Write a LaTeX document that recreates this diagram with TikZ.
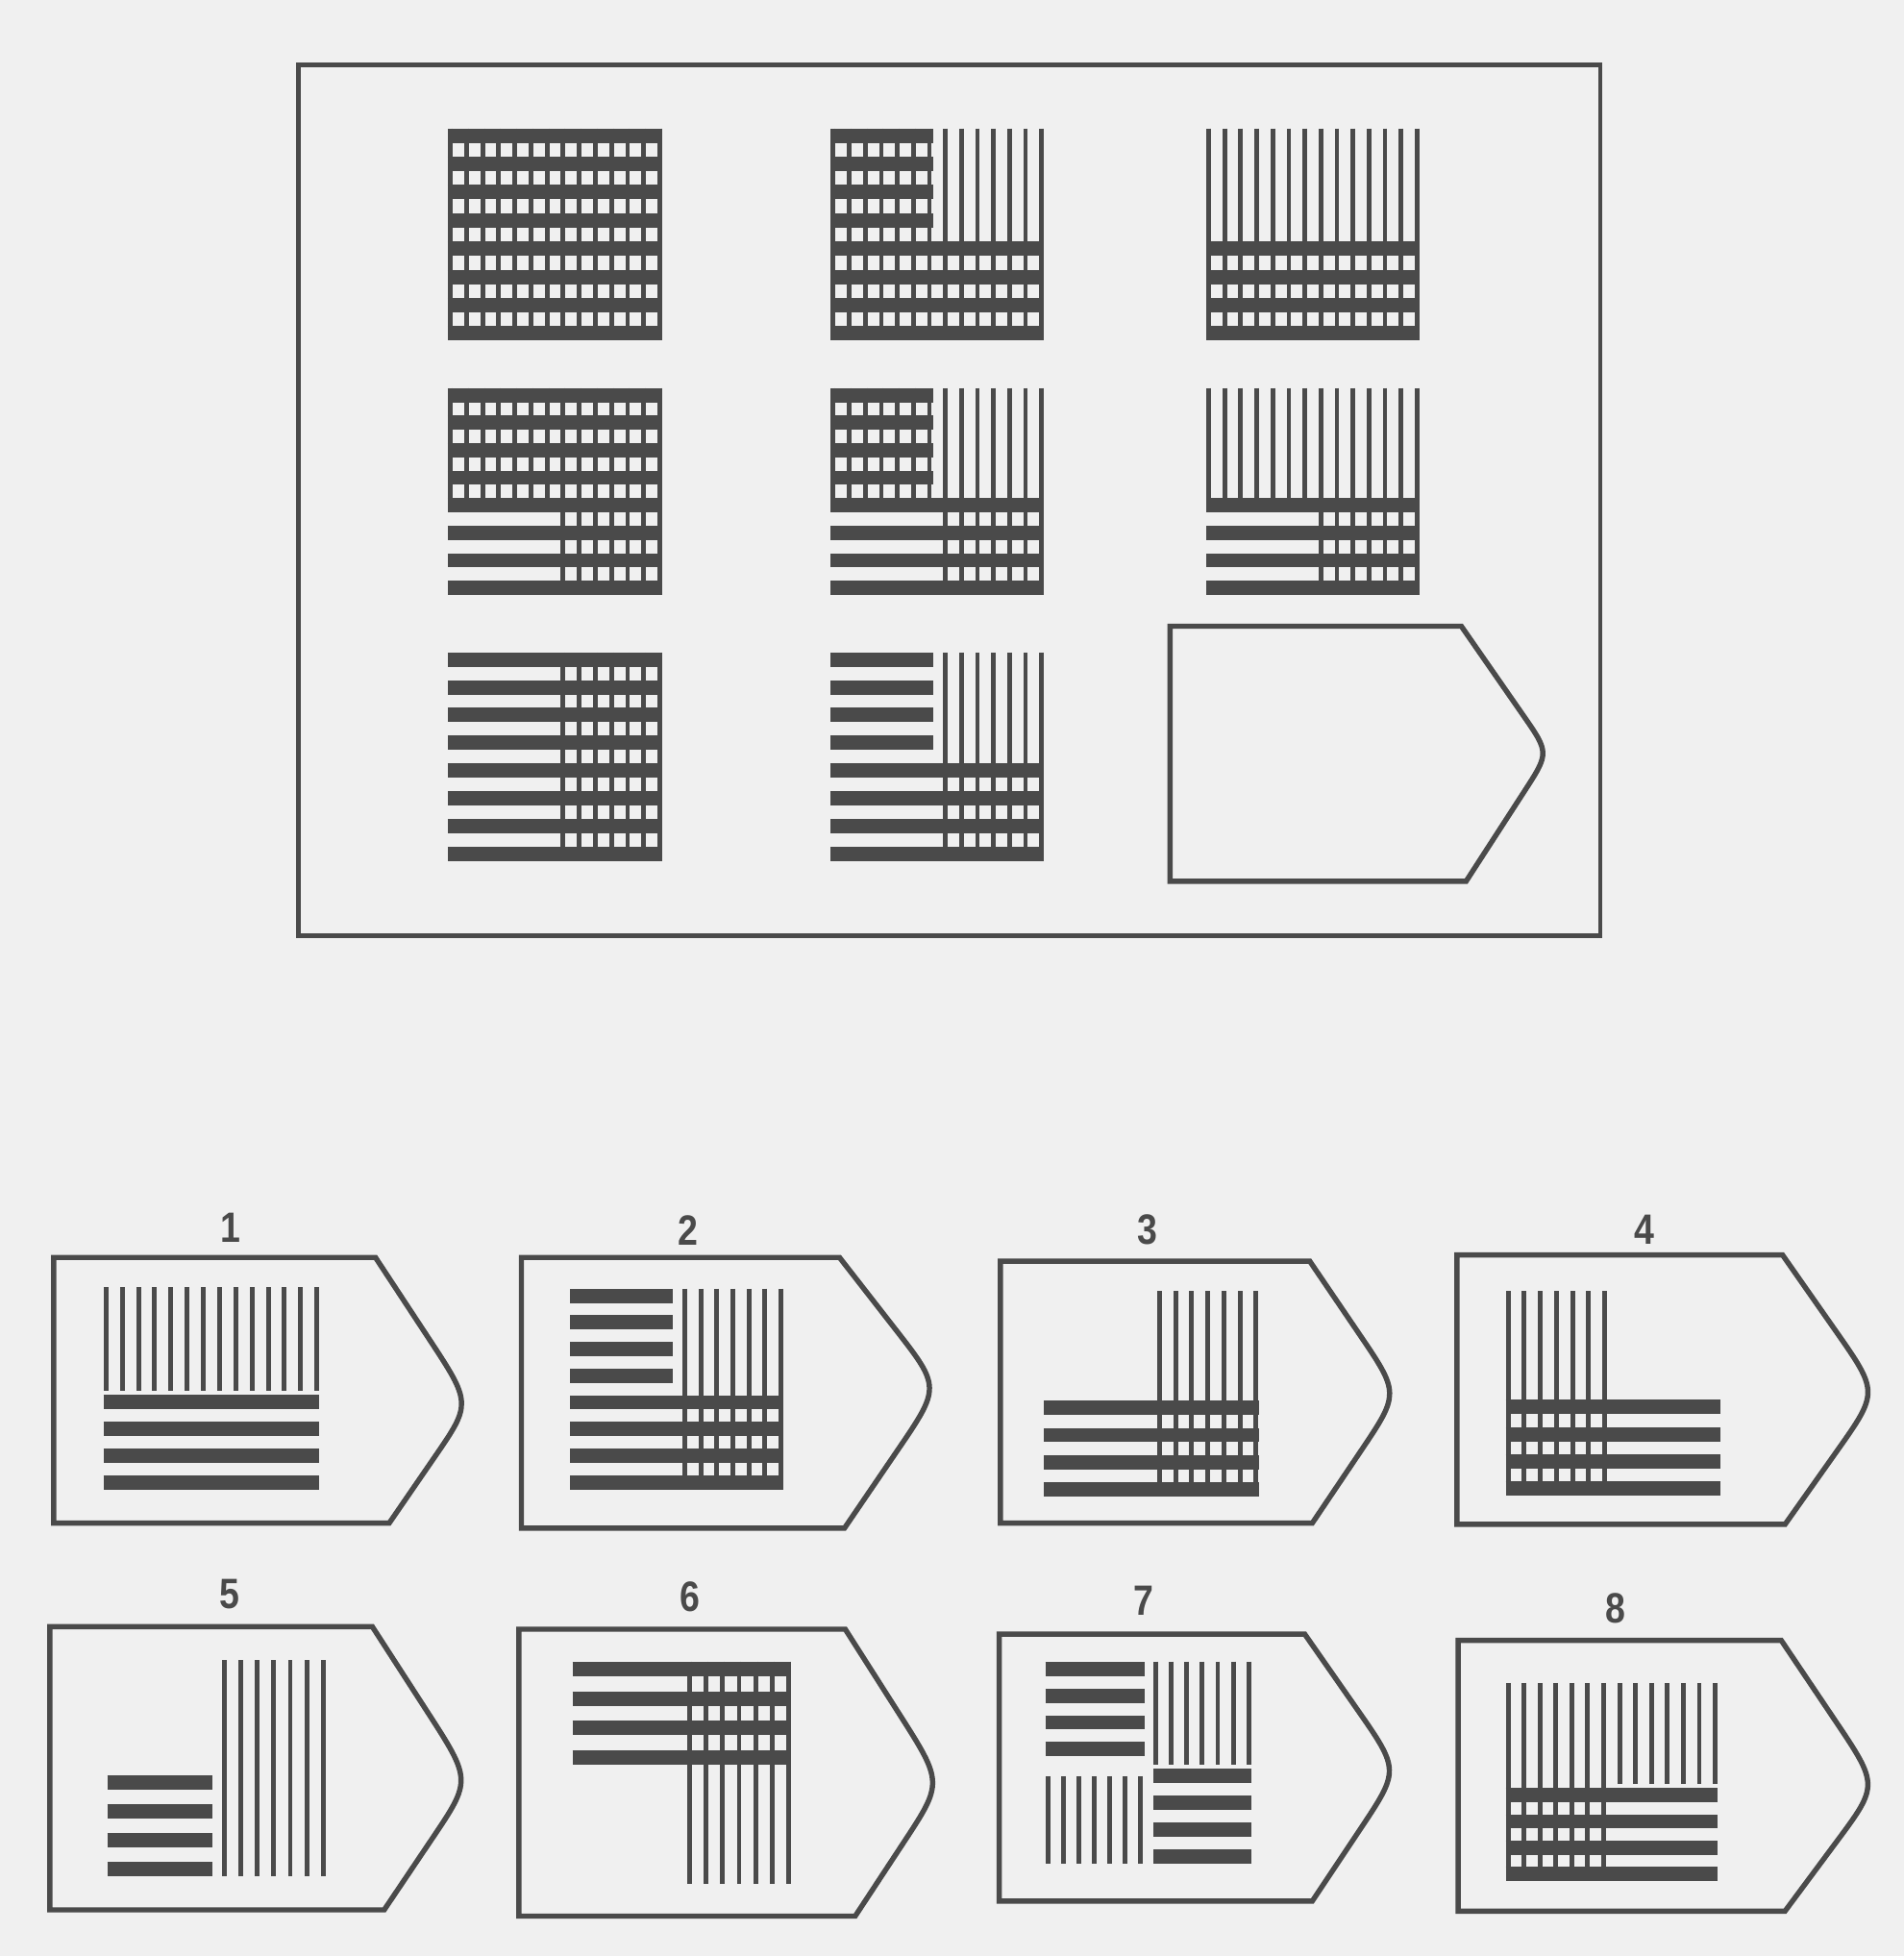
\documentclass[tikz,border=0pt]{standalone}
\usepackage{fontspec}
\newfontfamily\numfont{Liberation Sans}[FakeStretch=0.85]
\usetikzlibrary{calc}
\definecolor{ink}{RGB}{74,74,74}
\definecolor{paper}{RGB}{240,240,240}
\def\vw{4}
\def\bh{11.5}
\def\vgap{0}
\tikzset{
  barline/.style={draw=ink, line width=5.75pt, line cap=butt},
  vline/.style={draw=ink, line width=1.9pt, line cap=butt},
  frameline/.style={draw=ink, line width=1.8pt},
  tagline/.style={draw=ink, line width=2.1pt, line join=miter},
  numlabel/.style={text=ink, font=\numfont\bfseries\fontsize{17}{17}\selectfont, inner sep=0pt}
}
% horizontal bar set: rows #1..#2, left flag #3, right flag #4 (1=H,2=V,3=HV)
\newcommand\phset[4]{%
  \edef\hcode{\ifodd#3 1\else 0\fi\ifodd#4 1\else 0\fi}%
  \ifnum\hcode=11 \edef\pxs{\cxa}\edef\pxe{\cxb}\fi
  \ifnum\hcode=10 \edef\pxs{\cxa}\edef\pxe{\xml}\fi
  \ifnum\hcode=1 \edef\pxs{\xmr}\edef\pxe{\cxb}\fi
  \ifnum\hcode>0
    \foreach \i in {#1,...,#2}{\draw[barline] (\pxs,\cya+\bh/2+\i*\ph) -- (\pxe,\cya+\bh/2+\i*\ph);}%
  \fi}
% vertical line set: cols #1..#2, top flag #3, bottom flag #4
\newcommand\pvset[4]{%
  \edef\vcode{\ifnum#3>1 1\else 0\fi\ifnum#4>1 1\else 0\fi}%
  \ifnum\vcode=11 \edef\pys{\cya}\edef\pye{\cyb}\fi
  \ifnum\vcode=10 \edef\pys{\cya}\pgfmathsetmacro\pye{\ym-\vgap}\fi
  \ifnum\vcode=1 \edef\pys{\ym}\edef\pye{\cyb}\fi
  \ifnum\vcode>0
    \foreach \j in {#1,...,#2}{\draw[vline] (\cxa+\vw/2+\j*\pv,\pys) -- (\cxa+\vw/2+\j*\pv,\pye);}%
  \fi}
% pattern cell: x0 x1 y0 y1, flags TL TR BL BR
\newcommand\pcell[8]{%
  \pgfmathsetmacro\cxa{#1}\pgfmathsetmacro\cxb{#2}%
  \pgfmathsetmacro\cya{#3}\pgfmathsetmacro\cyb{#4}%
  \pgfmathsetmacro\pv{(\cxb-\cxa-\vw)/13}%
  \pgfmathsetmacro\ph{(\cyb-\cya-\bh)/7}%
  \pgfmathsetmacro\xml{\cxa+\vw+6*\pv+1}%
  \pgfmathsetmacro\xmr{\cxa+7*\pv}%
  \pgfmathsetmacro\ym{\cya+\bh/2+4*\ph}%
  \phset{0}{3}{#5}{#6}%
  \phset{4}{7}{#7}{#8}%
  \pvset{0}{6}{#5}{#7}%
  \pvset{7}{13}{#6}{#8}%
}
% tag outline: L T Ax Px Py Cx B rounding
\newcommand\tagshape[8]{%
  \draw[tagline] (#1,#2) -- (#3,#2) -- ($(#4,#5)!#8!(#3,#2)$) .. controls (#4,#5) .. ($(#4,#5)!#8!(#6,#7)$) -- (#6,#7) -- (#1,#7) -- cycle;}
\begin{document}
\begin{tikzpicture}[x=0.5pt,y=-0.5pt]
\fill[paper] (0,0) rectangle (1526,1568);
% main frame
\draw[frameline] (239,52) rectangle (1283,750);
% matrix cells
\pcell{359}{531}{103}{273}{3}{3}{3}{3}
\pcell{666}{837}{103}{273}{3}{2}{3}{3}
\pcell{967}{1138}{103}{273}{2}{2}{3}{3}
\pcell{359}{531}{311}{477}{3}{3}{1}{3}
\pcell{666}{837}{311}{477}{3}{2}{1}{3}
\pcell{967}{1138}{311}{477}{2}{2}{1}{3}
\pcell{359}{531}{523}{690}{1}{3}{1}{3}
\pcell{666}{837}{523}{690}{1}{2}{1}{3}
% blank answer tag
\tagshape{938}{502}{1171.5}{1242}{603.5}{1175.3}{706.5}{0.3}
% options: tags
\tagshape{43}{1008}{301}{378}{1125}{312}{1221}{0.45}
\tagshape{418}{1008}{673}{754}{1112}{677}{1225}{0.45}
\tagshape{802}{1011}{1050}{1122}{1117}{1052}{1221}{0.45}
\tagshape{1168}{1006}{1429}{1506}{1116}{1431}{1222}{0.45}
\tagshape{40}{1304}{298.5}{378}{1427}{308}{1531}{0.45}
\tagshape{416}{1306}{677.6}{756}{1429}{685.6}{1536}{0.45}
\tagshape{801}{1310}{1046}{1122}{1419}{1052}{1524}{0.45}
\tagshape{1169}{1315}{1428}{1506}{1431}{1431}{1532}{0.45}
% options: contents
\def\vgap{9}
\pcell{83}{256}{1032}{1194}{2}{2}{1}{1}
\def\vgap{0}
\pcell{457}{628}{1033}{1194}{1}{2}{1}{3}
\pcell{837}{1009}{1035}{1200}{0}{2}{1}{3}
\pcell{1207}{1379}{1035}{1199}{2}{0}{3}{1}
\pcell{86}{261}{1331}{1504}{0}{2}{1}{2}
\pcell{459}{634}{1332}{1510}{1}{3}{0}{2}
\def\vgap{9}
\pcell{838}{1003}{1332}{1494}{1}{2}{2}{1}
\pcell{1207}{1377}{1349}{1508}{2}{2}{3}{1}
\def\vgap{0}
% option numbers
\node[numlabel] (n1) at (185,984) {1};
\node[numlabel] (n2) at (552,986) {2};
\node[numlabel] (n3) at (920,986) {3};
\node[numlabel] (n4) at (1318,986) {4};
\node[numlabel] (n5) at (184,1278) {5};
\node[numlabel] (n6) at (553,1280) {6};
\node[numlabel] (n7) at (917,1283) {7};
\node[numlabel] (n8) at (1295,1289) {8};
\end{tikzpicture}
\end{document}
